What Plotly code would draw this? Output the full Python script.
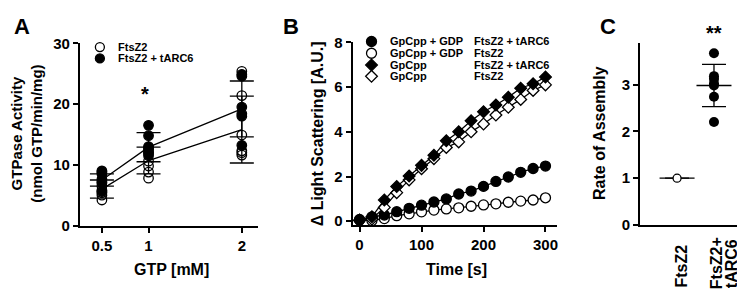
import plotly.graph_objects as go

# ---------------- data ----------------
# Panel A: GTPase activity (nmol GTP/min/mg) vs GTP [mM]
gtp_mM = [0.5, 1, 2]
ftsz2_points = [
    [4.2, 5.0, 5.4, 5.8, 6.5, 7.2],
    [7.8, 8.8, 9.8, 10.6, 12.0, 12.8],
    [11.6, 12.0, 12.3, 14.9, 21.4, 25.4],
]
tarc6_points = [
    [5.6, 7.0, 7.6, 8.5, 8.8, 9.0],
    [11.5, 12.0, 12.5, 13.0, 14.8, 16.5],
    [13.2, 18.0, 18.4, 19.5, 24.6, 24.9],
]
ftsz2_mean = [6.0, 10.7, 15.8]
ftsz2_sd = [1.5, 2.2, 5.5]
tarc6_mean = [7.5, 12.9, 19.2]
tarc6_sd = [1.0, 2.4, 4.6]
series_a_names = ["FtsZ2", "FtsZ2 + tARC6"]

# Panel B: light scattering vs time
time_s = [0, 20, 40, 60, 80, 100, 120, 140, 160, 180, 200, 220, 240, 260, 280, 300]
gdp_tarc6 = [0.08, 0.2, 0.28, 0.43, 0.58, 0.72, 0.86, 1.0, 1.22, 1.35, 1.56, 1.78, 1.98, 2.19, 2.36, 2.47]
gdp_ftsz2 = [0.05, 0.03, 0.12, 0.25, 0.33, 0.42, 0.5, 0.55, 0.6, 0.67, 0.73, 0.78, 0.85, 0.9, 0.95, 1.05]
gpcpp_tarc6 = [0.05, 0.2, 0.95, 1.55, 2.02, 2.5, 2.95, 3.6, 4.0, 4.5, 4.9, 5.2, 5.55, 5.95, 6.15, 6.45]
gpcpp_ftsz2 = [0.03, 0.1, 0.62, 1.28, 1.85, 2.35, 2.8, 3.3, 3.55, 4.0, 4.35, 4.75, 5.1, 5.45, 5.85, 6.1]
legend_b_nucleotide = ["GpCpp + GDP", "GpCpp + GDP", "GpCpp", "GpCpp"]
legend_b_protein = ["FtsZ2 + tARC6", "FtsZ2", "FtsZ2 + tARC6", "FtsZ2"]

# Panel C: rate of assembly
categories_c = ["FtsZ2", "FtsZ2+<br>tARC6"]
rate_ftsz2 = [1.0]
rate_tarc6 = [3.67, 3.18, 3.12, 3.02, 2.98, 2.74, 2.2]
rate_mean = [1.0, 2.98]
rate_sd = [0.0, 0.45]

# ---------------- helpers ----------------
W, H = 745, 290
FONT = "Liberation Sans, Arial, sans-serif"


def fx(p):
    return p / W


def fy(p):
    return 1 - p / H


def axis_style(**kw):
    d = dict(showline=True, linecolor="black", linewidth=2, ticks="outside",
             ticklen=5, tickwidth=2, tickcolor="black", showgrid=False,
             zeroline=False,
             tickfont=dict(family=FONT, size=15, color="black", weight="bold"))
    d.update(kw)
    return d


fig = go.Figure()

# ---------------- Panel A ----------------
for mean, sd in [(ftsz2_mean, ftsz2_sd), (tarc6_mean, tarc6_sd)]:
    fig.add_trace(go.Scatter(
        x=gtp_mM, y=mean, mode="lines", line=dict(color="black", width=1.3),
        error_y=dict(type="data", array=sd, visible=True, width=12,
                     thickness=1.3, color="black"),
        xaxis="x", yaxis="y", showlegend=False, hoverinfo="skip"))

for pts, sym in [(ftsz2_points, "circle-open"), (tarc6_points, "circle")]:
    xs, ys = [], []
    for g, vals in zip(gtp_mM, pts):
        xs += [g] * len(vals)
        ys += vals
    fig.add_trace(go.Scatter(
        x=xs, y=ys, mode="markers",
        marker=dict(symbol=sym, size=9.5, color="black", line=dict(color="black", width=1.3)),
        xaxis="x", yaxis="y", showlegend=False))

# ---------------- Panel B ----------------
b_series = [
    (gdp_ftsz2, "circle", "white", 10),
    (gdp_tarc6, "circle", "black", 10),
    (gpcpp_ftsz2, "diamond", "white", 9),
    (gpcpp_tarc6, "diamond", "black", 9),
]
for vals, sym, fill, size in b_series:
    fig.add_trace(go.Scatter(
        x=time_s, y=vals, mode="lines+markers",
        line=dict(color="black", width=1.3),
        marker=dict(symbol=sym, size=size, color=fill, line=dict(color="black", width=1.3)),
        xaxis="x2", yaxis="y2", showlegend=False))

# ---------------- Panel C ----------------
fig.add_trace(go.Scatter(
    x=[0, 1], y=rate_mean, mode="markers",
    marker=dict(symbol="line-ew-open", size=25, color="black", line=dict(color="black", width=1.3)),
    error_y=dict(type="data", array=rate_sd, visible=True, width=12, thickness=1.3, color="black"),
    xaxis="x3", yaxis="y3", showlegend=False, hoverinfo="skip"))
fig.add_trace(go.Scatter(
    x=[0] * len(rate_ftsz2), y=rate_ftsz2, mode="markers",
    marker=dict(symbol="circle", size=8, color="white", line=dict(color="black", width=1.3)),
    xaxis="x3", yaxis="y3", showlegend=False))
fig.add_trace(go.Scatter(
    x=[1] * len(rate_tarc6), y=rate_tarc6, mode="markers",
    marker=dict(symbol="circle", size=10, color="black"),
    xaxis="x3", yaxis="y3", showlegend=False))

# ---------------- legend keys (overlay pixel axis) ----------------
leg_a_y = [32, 44]
for py, fill in zip(leg_a_y, ["white", "black"]):
    fig.add_trace(go.Scatter(
        x=[92], y=[py], mode="markers",
        marker=dict(symbol="circle", size=9, color=fill, line=dict(color="black", width=1.3)),
        xaxis="x4", yaxis="y4", showlegend=False, hoverinfo="skip"))
leg_b_y = [26, 38.5, 51, 63]
for py, (vals, sym, fill, size) in zip(leg_b_y, [b_series[1], b_series[0], b_series[3], b_series[2]]):
    fig.add_trace(go.Scatter(
        x=[364], y=[py], mode="markers",
        marker=dict(symbol=sym, size=size, color=fill, line=dict(color="black", width=1.3)),
        xaxis="x4", yaxis="y4", showlegend=False, hoverinfo="skip"))

ann = []


def text(px, py, s, size=11, xanchor="left", yanchor="middle", angle=0):
    ann.append(dict(x=fx(px), y=fy(py), xref="paper", yref="paper", text=s,
                    showarrow=False, xanchor=xanchor, yanchor=yanchor, textangle=angle,
                    font=dict(family=FONT, size=size, color="black", weight="bold")))


# legend texts
for name, py in zip(series_a_names, leg_a_y):
    text(108, py, name)
for nuc, prot, py in zip(legend_b_nucleotide, legend_b_protein, leg_b_y):
    text(381, py, nuc)
    text(465, py, prot)

# panel labels
text(14, 10, "A", size=22, xanchor="center")
text(283, 10, "B", size=22, xanchor="center")
text(601, 10, "C", size=22, xanchor="center")

# axis titles
text(19, 124, "GTPase Activity<br>(nmol GTP/min/mg)", size=15, xanchor="center", angle=-90)
text(164, 268, "GTP [mM]", size=16, xanchor="center")
text(310, 124, "Δ Light Scattering [A.U.]", size=16, xanchor="center", angle=-90)
text(449, 268, "Time [s]", size=16, xanchor="center")
text(593, 123, "Rate of Assembly", size=16, xanchor="center", angle=-90)

# category labels C (rotated, each line placed separately)
text(674, 265, categories_c[0], size=16, xanchor="center", angle=-90)
line1, line2 = categories_c[1].split("<br>")
text(709, 261.5, line1, size=16, xanchor="center", angle=-90)
text(724, 262.5, line2, size=16, xanchor="center", angle=-90)

# significance
text(137, 82, "*", size=20, xanchor="center")
text(707, 17, "**", size=20, xanchor="center")

fig.update_layout(
    width=W, height=H, margin=dict(l=0, r=0, t=0, b=0),
    paper_bgcolor="white", plot_bgcolor="rgba(0,0,0,0)",
    annotations=ann,
    xaxis=axis_style(domain=[fx(72), fx(250)], range=[0.264, 2.17], anchor="y",
                     tickvals=gtp_mM, ticktext=["0.5", "1", "2"]),
    yaxis=axis_style(domain=[fy(221.5), fy(28)], range=[0, 30], anchor="x",
                     tickvals=[0, 10, 20, 30]),
    xaxis2=axis_style(domain=[fx(345), fx(550)], range=[-11.3, 319], anchor="y2",
                      tickvals=[0, 100, 200, 300]),
    yaxis2=axis_style(domain=[fy(221), fy(27)], range=[-0.17, 8], anchor="x2",
                      tickvals=[0, 2, 4, 6, 8]),
    xaxis3=axis_style(domain=[fx(633), 1.0], range=[-1.0, 2.03], anchor="y3",
                      ticks="", showticklabels=False),
    yaxis3=axis_style(domain=[fy(221), fy(28)], range=[0, 3.88], anchor="x3",
                      tickvals=[0, 1, 2, 3]),
    xaxis4=dict(domain=[0, 1], range=[0, W], visible=False, anchor="y4", fixedrange=True),
    yaxis4=dict(domain=[0, 1], range=[H, 0], visible=False, anchor="x4", fixedrange=True),
)

fig.write_html("out.html")
